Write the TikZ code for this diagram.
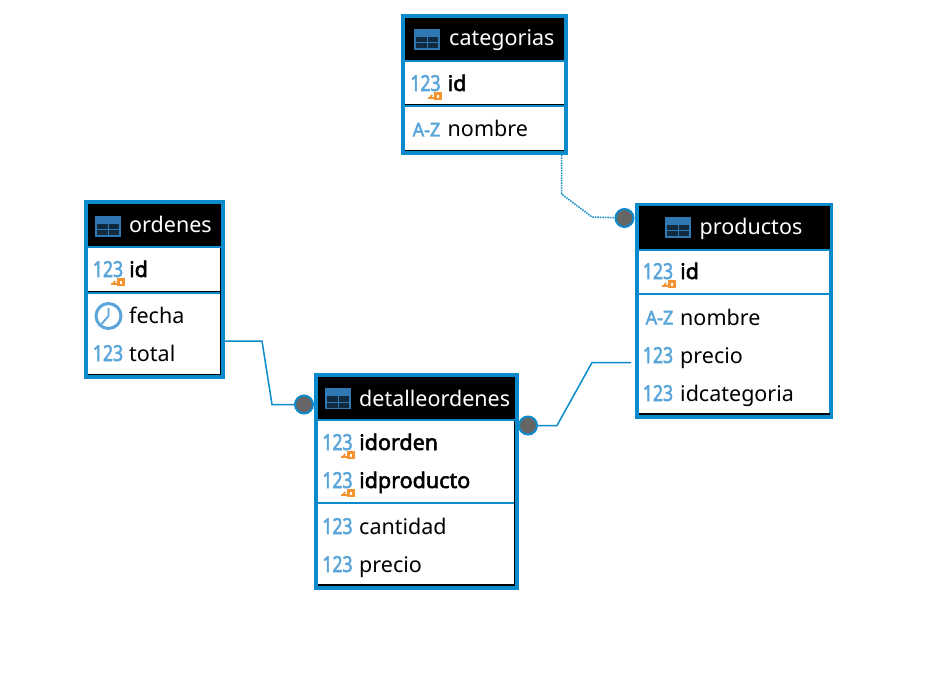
\documentclass[tikz,border=0pt]{standalone}
\usepackage{fontspec}
\setmainfont{Noto Sans}[AutoFakeBold=2.5]
\usepackage{tikz}
\definecolor{tableblue}{HTML}{0B8BCB}
\definecolor{iconblue}{HTML}{5AA5DA}
\definecolor{darkicon}{HTML}{2F78B4}
\definecolor{keyorange}{HTML}{F59331}
\definecolor{fkgray}{HTML}{666666}
\tikzstyle{tablebox}=[rectangle,draw=tableblue,fill=white,line width=4pt,
inner sep=0pt,outer sep=0pt,anchor=north west]
\tikzstyle{tablehead}=[rectangle,fill=black,inner sep=0pt,outer sep=0pt,anchor=north west]
\tikzstyle{title}=[text=white,font=\fontsize{21.5}{25}\selectfont,inner sep=0pt,anchor=base west]
\tikzstyle{field}=[text=black,font=\fontsize{21.5}{25}\selectfont,inner sep=0pt,anchor=base west]
\tikzstyle{keyfield}=[text=black,font=\fontsize{21.5}{25}\selectfont\bfseries,inner sep=0pt,anchor=base west]
\tikzstyle{numicon}=[text=iconblue,font=\fontsize{22}{25}\selectfont\bfseries,inner sep=0pt,anchor=base,xscale=.8,transform shape]
\tikzstyle{texticon}=[text=iconblue,font=\fontsize{19}{20}\selectfont\bfseries,inner sep=0pt,anchor=base,xscale=.95,transform shape]
\tikzstyle{fkdot}=[circle,draw=tableblue,fill=fkgray,line width=2pt,inner sep=0pt,minimum size=18pt]
\tikzstyle{fkline}=[draw=tableblue,line width=1.5pt]
\tikzstyle{sepline}=[draw=tableblue,line width=2pt]
\tikzstyle{shadowline}=[draw=black,line width=1.4pt]
\tikzset{
	tableicon/.pic={
		\fill [darkicon] (0,0) rectangle (26,21);
		\fill [black!65!darkicon] (2,8) rectangle (12.5,13.5);
		\fill [black!65!darkicon] (13.5,8) rectangle (24,13.5);
		\fill [black!65!darkicon] (2,14.5) rectangle (12.5,19.5);
		\fill [black!65!darkicon] (13.5,14.5) rectangle (24,19.5);
	},
	keyicon/.pic={
		\draw [keyorange,line width=2.2pt] (8,1) rectangle (13,6.2);
		\draw [keyorange,line width=2.2pt] (0.5,5.5) -- (8,5.5);
		\draw [keyorange,line width=1.8pt] (2.5,5.5) -- (4.5,2.5);
	}
}

\begin{document}
\begin{tikzpicture}[x=1pt,y=-1pt]
	\useasboundingbox (0,0) rectangle (944,676);
	
	% connectors first, the tables sit on top
	\node  (fkproductos)   at (624.5,218) [fkdot] {};
	\node  (fkdetalle)   at (304,404.5) [fkdot] {};
	\node  (fkprecio)   at (528,425.5) [fkdot] {};
	\coordinate (catfoot) at (561.5,155);
	\coordinate (ordside) at (225,341);
	\coordinate (prodside) at (631,362.5);
	
	\draw [fkline,densely dotted] (catfoot) to (561.5,194) to (592,217) to (fkproductos);
	\draw [fkline] (ordside) to (262,341) to (272,404.5) to (fkdetalle);
	\draw [fkline] (fkprecio) to (557,425.5) to (592,362.5) to (prodside);
	
	% categorias
	\node  (categorias)   at (403,16) [tablebox,minimum width=163pt,minimum height=137pt] {};
	\node  (categoriashead)   at (405,18) [tablehead,minimum width=159pt,minimum height=42pt] {};
	\node  (categoriastitle)   at (449,46) [title] {categorias};
	\pic at (414,29) {tableicon};
	\draw [sepline] (405,61) to (564,61);
	\draw [shadowline] (405,104.5) to (564,104.5);
	\draw [sepline] (405,106) to (564,106);
	\draw [shadowline] (405,150.5) to (564,150.5);
	\node  (catid)   at (447.5,91) [keyfield] {id};
	\node  (catidicon)   at (425.5,91) [numicon] {123};
	\pic at (427.5,92.5) {keyicon};
	\node  (catnombre)   at (447.5,137) [field] {nombre};
	\node  (catnombreicon)   at (426.5,136.5) [texticon] {A-Z};
	
	% ordenes
	\node  (ordenes)   at (86,202) [tablebox,minimum width=137pt,minimum height=175pt] {};
	\node  (ordeneshead)   at (88,204) [tablehead,minimum width=133pt,minimum height=42pt] {};
	\node  (ordenestitle)   at (129,233) [title] {ordenes};
	\pic at (95,216) {tableicon};
	\draw [sepline] (88,247) to (221,247);
	\draw [shadowline] (88,291.5) to (221,291.5);
	\draw [sepline] (88,293) to (221,293);
	\draw [shadowline] (88,374.5) to (220.5,374.5) to (220.5,248);
	\node  (ordid)   at (129,277) [keyfield] {id};
	\node  (ordidicon)   at (108,277) [numicon] {123};
	\pic at (110.5,278.5) {keyicon};
	\node  (ordfecha)   at (129,323) [field] {fecha};
	\node  (ordclock)   at (108.5,316) [circle,draw=iconblue,line width=3pt,fill=white,minimum size=25pt,inner sep=0pt] {};
	\draw [draw=iconblue,line width=1.8pt] (ordclock.center) ++(0,-8) -- (ordclock.center) -- ++(-7,8);
	\node  (ordtotal)   at (129,361) [field] {total};
	\node  (ordtotalicon)   at (108,361) [numicon] {123};
	
	% detalleordenes
	\node  (detalleordenes)   at (316,375) [tablebox,minimum width=201pt,minimum height=213pt] {};
	\node  (detallehead)   at (318,377) [tablehead,minimum width=197pt,minimum height=42pt] {};
	\node  (detalletitle)   at (359,406) [title] {detalleordenes};
	\pic at (325,388) {tableicon};
	\draw [sepline] (318,420) to (515,420);
	\draw [sepline] (318,503) to (515,503);
	\draw [shadowline] (318,585) to (514.5,585) to (514.5,421);
	\node  (detorden)   at (359,450) [keyfield] {idorden};
	\node  (detordenicon)   at (337.5,450) [numicon] {123};
	\pic at (340.5,451.5) {keyicon};
	\node  (detproducto)   at (359,488) [keyfield] {idproducto};
	\node  (detproductoicon)   at (337.5,488) [numicon] {123};
	\pic at (340.5,489.5) {keyicon};
	\node  (detcantidad)   at (359,534) [field] {cantidad};
	\node  (detcantidadicon)   at (337.5,534) [numicon] {123};
	\node  (detprecio)   at (359,572) [field] {precio};
	\node  (detprecioicon)   at (337.5,572) [numicon] {123};
	
	% productos
	\node  (productos)   at (637,205) [tablebox,minimum width=194pt,minimum height=212pt] {};
	\node  (productoshead)   at (639,206) [tablehead,minimum width=191pt,minimum height=43pt] {};
	\node  (productostitle)   at (699.5,234) [title] {productos};
	\pic at (665,217) {tableicon};
	\draw [sepline] (639,249.5) to (830,249.5);
	\draw [sepline] (639,294) to (830,294);
	\draw [shadowline] (639,414) to (830,414);
	\node  (prodid)   at (680,279) [keyfield] {id};
	\node  (prodidicon)   at (658,279) [numicon] {123};
	\pic at (661.5,280.5) {keyicon};
	\node  (prodnombre)   at (680,325) [field] {nombre};
	\node  (prodnombreicon)   at (659.5,324.5) [texticon] {A-Z};
	\node  (prodprecio)   at (680,363) [field] {precio};
	\node  (prodprecioicon)   at (658,363) [numicon] {123};
	\node  (prodcategoria)   at (680,401) [field] {idcategoria};
	\node  (prodcategoriaicon)   at (658,401) [numicon] {123};
	
\end{tikzpicture}
\end{document}
